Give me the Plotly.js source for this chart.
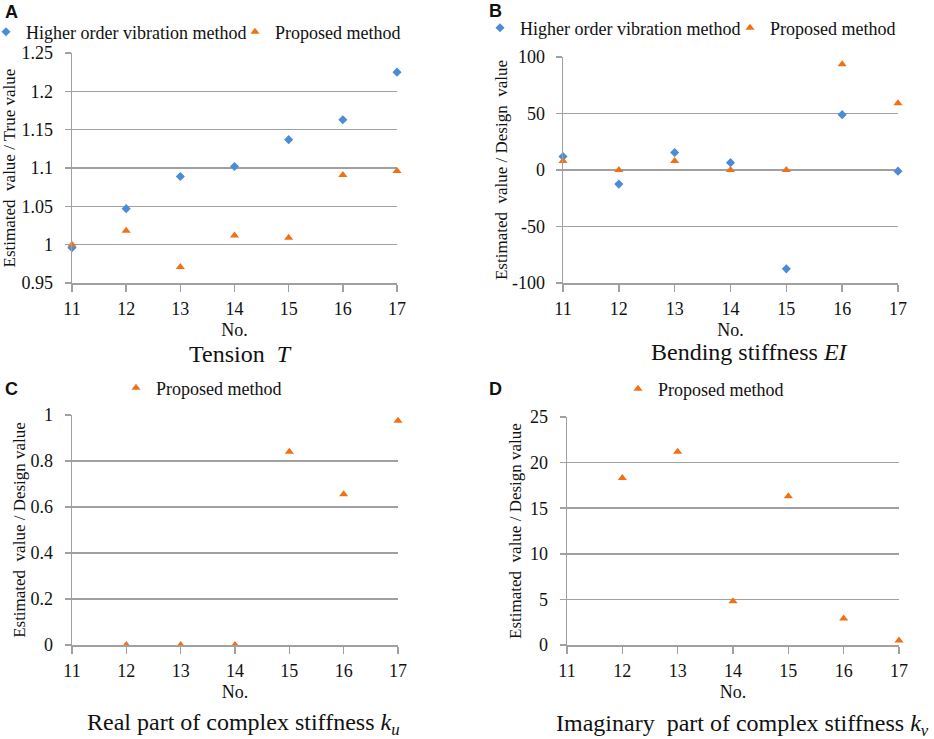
<!DOCTYPE html>
<html>
<head>
<meta charset="utf-8">
<script src="https://cdn.plot.ly/plotly-3.0.1.min.js"></script>
<style>html,body{margin:0;padding:0;background:#fff;}#chart{width:934px;height:739px;}</style>
</head>
<body>
<div id="chart"></div>
<script>
// ---- data ----
const caseNo = [11, 12, 13, 14, 15, 16, 17];
const caseNoKu = [12, 13, 14, 15, 16, 17];
const caseNoKv = [12, 13, 14, 15, 16, 17];

const tensionHigher = [0.996, 1.047, 1.089, 1.102, 1.137, 1.163, 1.225];
const tensionProposed = [1.000, 1.018, 0.971, 1.012, 1.009, 1.091, 1.096];

const bendingHigher = [12, -12.5, 15.5, 6.5, -87.5, 49, -1];
const bendingProposed = [8, 0, 8, 0, 0, 93.5, 59];

const kuProposed = [0, 0, 0, 0.84, 0.655, 0.975];
const kvProposed = [18.3, 21.2, 4.8, 16.3, 2.9, 0.5];

const tickA = [0.95, 1, 1.05, 1.1, 1.15, 1.2, 1.25];
const tickAText = ["0.95", "1", "1.05", "1.1", "1.15", "1.2", "1.25"];
const tickB = [-100, -50, 0, 50, 100];
const tickBText = ["-100", "-50", "0", "50", "100"];
const tickC = [0, 0.2, 0.4, 0.6, 0.8, 1];
const tickCText = ["0", "0.2", "0.4", "0.6", "0.8", "1"];
const tickD = [0, 5, 10, 15, 20, 25];
const tickDText = ["0", "5", "10", "15", "20", "25"];
const xTickText = ["11", "12", "13", "14", "15", "16", "17"];

const nameHigher = "Higher order vibration method";
const nameProposed = "Proposed method";

// ---- style ----
const SERIF = '"Liberation Serif", "Times New Roman", Times, serif';
const SANS = '"Liberation Sans", Arial, sans-serif';
const BLUE = "#4A8CD8";
const ORANGE = "#F07113";
const GRID = "#a0a0a0";
const INK = "#111";

function hi(x, y, xa, ya, lg) {
  return {x: x, y: y, xaxis: xa, yaxis: ya, type: "scatter", mode: "markers", name: nameHigher,
    legend: lg, cliponaxis: false,
    marker: {symbol: "diamond", size: 7, color: BLUE}};
}
function pr(x, y, xa, ya, lg) {
  return {x: x, y: y, xaxis: xa, yaxis: ya, type: "scatter", mode: "markers", name: nameProposed,
    legend: lg, cliponaxis: false, showlegend: true,
    marker: {symbol: "triangle-up", size: 8, color: ORANGE}};
}

const data = [
  hi(caseNo, tensionHigher, "x", "y", "legend"),
  pr(caseNo, tensionProposed, "x", "y", "legend5"),
  hi(caseNo, bendingHigher, "x2", "y2", "legend2"),
  pr(caseNo, bendingProposed, "x2", "y2", "legend6"),
  pr(caseNoKu, kuProposed, "x3", "y3", "legend3"),
  pr(caseNoKv, kvProposed, "x4", "y4", "legend4")
];

function xax(dom, anchor) {
  return {domain: dom, anchor: anchor, range: [11, 17], tickvals: caseNo, ticktext: xTickText,
    showgrid: false, zeroline: false, showline: true, linecolor: GRID, linewidth: 1.5,
    ticks: "outside", ticklen: 7, tickwidth: 1.5, tickcolor: GRID, ticklabelstandoff: 2,
    tickfont: {family: SERIF, size: 18, color: INK},
    title: {text: "No.", font: {family: SERIF, size: 18, color: INK}, standoff: 5}};
}
function yax(dom, anchor, range, tv, tt, title, standoff, lblOff) {
  return {domain: dom, anchor: anchor, range: range, tickvals: tv, ticktext: tt,
    showgrid: true, gridcolor: GRID, gridwidth: 1.5, zeroline: false,
    showline: true, linecolor: GRID, linewidth: 1.5,
    ticks: "outside", ticklen: 6, tickwidth: 1.5, tickcolor: GRID, ticklabelstandoff: lblOff,
    tickfont: {family: SERIF, size: 18, color: INK},
    title: {text: title, font: {family: SERIF, size: 17, color: INK}, standoff: standoff}};
}
function leg(x, y) {
  return {orientation: "h", x: x, y: y, xanchor: "left", yanchor: "middle",
    bgcolor: "rgba(0,0,0,0)", itemwidth: 30, itemsizing: "trace",
    font: {family: SERIF, size: 18, color: INK}, tracegroupgap: 0};
}

const H = 739, W = 934;
const layout = {
  width: W, height: H, autosize: false,
  margin: {l: 0, r: 0, t: 0, b: 0, autoexpand: false},
  paper_bgcolor: "#fff", plot_bgcolor: "#fff",
  showlegend: true,
  xaxis: xax([72 / W, 397 / W], "y"),
  yaxis: yax([1 - 283 / H, 1 - 53 / H], "x", [0.95, 1.25], tickA, tickAText, "Estimated  value / True value", 3, 8),
  xaxis2: xax([563 / W, 898 / W], "y2"),
  yaxis2: yax([1 - 283 / H, 1 - 57 / H], "x2", [-100, 100], tickB, tickBText, "Estimated  value / Design  value", 0, 7),
  xaxis3: xax([72 / W, 398 / W], "y3"),
  yaxis3: yax([1 - 645 / H, 1 - 415 / H], "x3", [0, 1], tickC, tickCText, "Estimated  value / Design value", 0, 8),
  xaxis4: xax([567 / W, 899 / W], "y4"),
  yaxis4: yax([1 - 645 / H, 1 - 417 / H], "x4", [0, 25], tickD, tickDText, "Estimated  value / Design value", 4, 8),
  legend: leg(-14 / W, 1 - 32 / H),
  legend5: leg(235 / W, 1 - 32 / H),
  legend2: leg(480 / W, 1 - 28 / H),
  legend6: leg(730 / W, 1 - 28 / H),
  legend3: leg(116 / W, 1 - 388 / H),
  legend4: leg(618 / W, 1 - 389 / H),
  annotations: [
    {text: "<b>A</b>", x: 3 / W, y: 1 - 12 / H, xref: "paper", yref: "paper", xanchor: "left", yanchor: "middle", showarrow: false, font: {family: SANS, size: 18, color: INK}},
    {text: "<b>B</b>", x: 487 / W, y: 1 - 11 / H, xref: "paper", yref: "paper", xanchor: "left", yanchor: "middle", showarrow: false, font: {family: SANS, size: 18, color: INK}},
    {text: "<b>C</b>", x: 3 / W, y: 1 - 389 / H, xref: "paper", yref: "paper", xanchor: "left", yanchor: "middle", showarrow: false, font: {family: SANS, size: 18, color: INK}},
    {text: "<b>D</b>", x: 487 / W, y: 1 - 389 / H, xref: "paper", yref: "paper", xanchor: "left", yanchor: "middle", showarrow: false, font: {family: SANS, size: 18, color: INK}},
    {text: "Tension  <i>T</i>", x: 240 / W, y: 1 - 354 / H, xref: "paper", yref: "paper", xanchor: "center", yanchor: "middle", showarrow: false, font: {family: SERIF, size: 24, color: INK}},
    {text: "Bending stiffness <i>EI</i>", x: 749 / W, y: 1 - 352 / H, xref: "paper", yref: "paper", xanchor: "center", yanchor: "middle", showarrow: false, font: {family: SERIF, size: 24, color: INK}},
    {text: "Real part of complex stiffness <i>k</i><sub><i>u</i></sub>", x: 243 / W, y: 1 - 724 / H, xref: "paper", yref: "paper", xanchor: "center", yanchor: "middle", showarrow: false, font: {family: SERIF, size: 24, color: INK}},
    {text: "Imaginary  part of complex stiffness <i>k</i><sub><i>v</i></sub>", x: 742 / W, y: 1 - 725 / H, xref: "paper", yref: "paper", xanchor: "center", yanchor: "middle", showarrow: false, font: {family: SERIF, size: 24, color: INK}}
  ]
};

Plotly.newPlot("chart", data, layout, {displayModeBar: false, staticPlot: true});
</script>
</body>
</html>
